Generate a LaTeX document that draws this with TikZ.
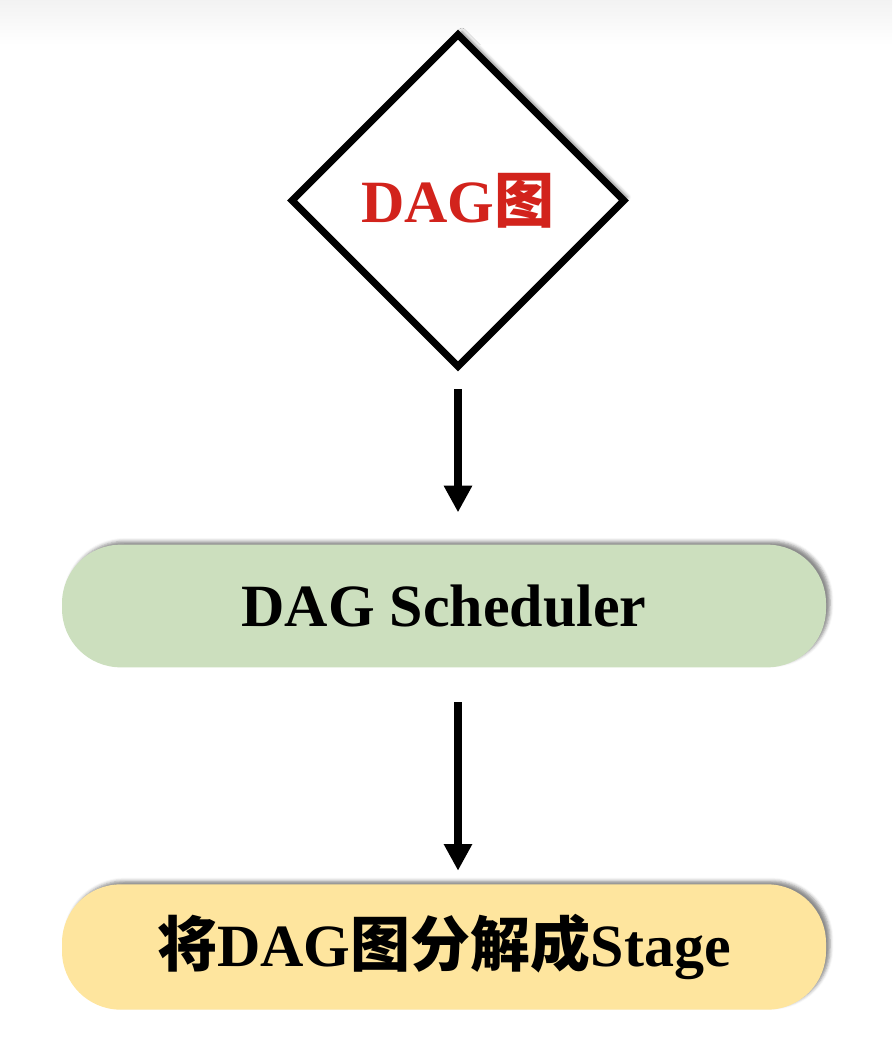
\documentclass[tikz,border=0pt]{standalone}
\usepackage{fontspec}
\setmainfont{Liberation Serif}
\newfontfamily\cjk{Noto Sans CJK SC}
\usetikzlibrary{shapes.geometric,arrows.meta,shadows.blur}
\definecolor{dagred}{HTML}{D2231C}
\definecolor{boxgreen}{HTML}{CCDFBE}
\definecolor{boxyellow}{HTML}{FEE59E}
\tikzset{
  softshadow/.style={blur shadow={shadow xshift=3pt,shadow yshift=2.5pt,shadow blur radius=2.5pt,shadow opacity=45}},
  dagdiamond/.style={diamond,aspect=1,draw=black,line width=5.25pt,fill=white,inner sep=0pt,
    minimum width=251pt,minimum height=251pt,softshadow},
  pillbox/.style={rectangle,rounded corners=44pt,minimum width=573pt,inner sep=0pt,softshadow},
  flowarrow/.style={line width=6pt,-{Triangle[length=20pt,width=20pt]}},
  bigtext/.style={font=\fontsize{45}{50}\selectfont\bfseries}
}
\begin{document}
\begin{tikzpicture}[x=0.75pt,y=-0.75pt]
\useasboundingbox (0,0) rectangle (892,1048);
\shade[top color=gray!10,bottom color=white] (0,0) rectangle (892,45);
\node[dagdiamond,bigtext,text=dagred] (dag) at (458,200.5) {DAG{\cjk\bfseries 图}};
\node[pillbox,fill=boxgreen,minimum height=92pt,bigtext] (sched) at (444,606) {DAG Scheduler};
\node[pillbox,fill=boxyellow,minimum height=94pt,bigtext] (stage) at (444,947)
  {{\cjk\bfseries 将}DAG{\cjk\bfseries 图分解成}Stage};
\draw[flowarrow,shorten <=13.5pt,shorten >=24pt] (dag.south) -- (dag.south |- sched.north);
\draw[flowarrow,shorten <=26pt,shorten >=10pt] (sched.south -| dag.south) -- (dag.south |- stage.north);
\end{tikzpicture}
\end{document}
